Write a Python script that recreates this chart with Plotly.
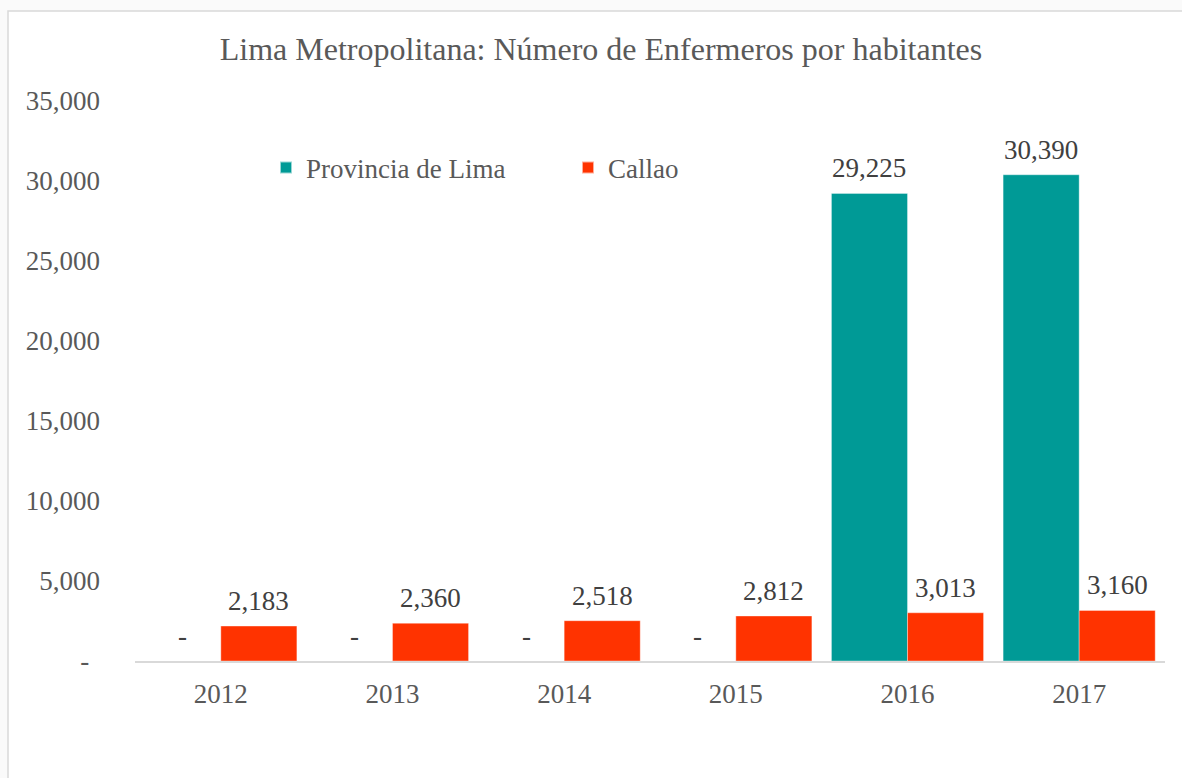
import plotly.graph_objects as go

years = ["2012", "2013", "2014", "2015", "2016", "2017"]
lima = [0, 0, 0, 0, 29225, 30390]
callao = [2183, 2360, 2518, 2812, 3013, 3160]
series_names = ["Provincia de Lima", "Callao"]
y_ticks = [0, 5000, 10000, 15000, 20000, 25000, 30000, 35000]

TEAL = "#009A96"
ORANGE = "#FF3300"
FONT = "Liberation Serif, Times New Roman, serif"

W, H = 1182, 778
L, R, T, B = 135, 17, 101, 117
plot_w = W - L - R
plot_h = H - T - B
bargap = 0.114
bar_w = plot_w / len(years) * (1 - bargap) / 2

def fmt(v):
    return "-" if v == 0 else f"{v:,}"

fig = go.Figure()
for name, vals, col in [(series_names[0], lima, TEAL), (series_names[1], callao, ORANGE)]:
    fig.add_trace(go.Bar(x=years, y=vals, name=name,
                         marker=dict(color=col, line=dict(width=0.6, color="rgba(255,255,255,0.6)"))))

annotations = []
for k, vals in enumerate([lima, callao]):
    shift = -bar_w / 2 if k == 0 else bar_w / 2
    for j, v in enumerate(vals):
        annotations.append(dict(
            x=j, y=v, xref="x", yref="y", text=fmt(v), showarrow=False,
            xshift=shift, yshift=8, yanchor="bottom",
            font=dict(family=FONT, size=27, color="#404040")))

def px2x(px):
    return (px - L) / plot_w

def py2y(py):
    return (H - B - py) / plot_h

fig.add_shape(type="rect", xref="paper", yref="paper",
              x0=px2x(8), x1=px2x(1210), y0=py2y(800), y1=py2y(11),
              line=dict(color="#D9D9D9", width=1.5), fillcolor="white", layer="below")

tick_text = ["-\u2009\u2009" if v == 0 else f"{v:,}" for v in y_ticks]

fig.update_layout(
    width=W, height=H,
    margin=dict(l=L, r=R, t=T, b=B, autoexpand=False),
    paper_bgcolor="#FAFAFA", plot_bgcolor="rgba(0,0,0,0)",
    barmode="group", bargap=bargap, bargroupgap=0,
    font=dict(family=FONT, size=27, color="#595959"),
    title=dict(text="Lima Metropolitana: Número de Enfermeros por habitantes",
               x=601 / W, xref="container", xanchor="center",
               y=1 - 49 / H, yref="container", yanchor="middle",
               font=dict(family=FONT, size=32, color="#595959")),
    legend=dict(orientation="h", x=px2x(266), y=py2y(168), xanchor="left", yanchor="middle",
                bgcolor="rgba(0,0,0,0)", font=dict(family=FONT, size=27, color="#595959"),
                entrywidth=257, entrywidthmode="pixels", itemsizing="constant"),
    xaxis=dict(type="category", range=[-0.5, len(years) - 0.5], showgrid=False, showline=True,
               linecolor="#D9D9D9", linewidth=1.5,
               ticks="", ticklabelstandoff=8, tickfont=dict(size=27, color="#595959")),
    yaxis=dict(range=[0, 35000], tickvals=y_ticks, ticktext=tick_text, showgrid=False,
               zeroline=False, showline=False, ticks="", ticklabelstandoff=34,
               tickfont=dict(size=27, color="#595959")),
    annotations=annotations,
)

fig.write_html("out.html", config={"displayModeBar": False},
               post_script="document.body.style.margin='0';document.body.style.overflow='hidden';")
